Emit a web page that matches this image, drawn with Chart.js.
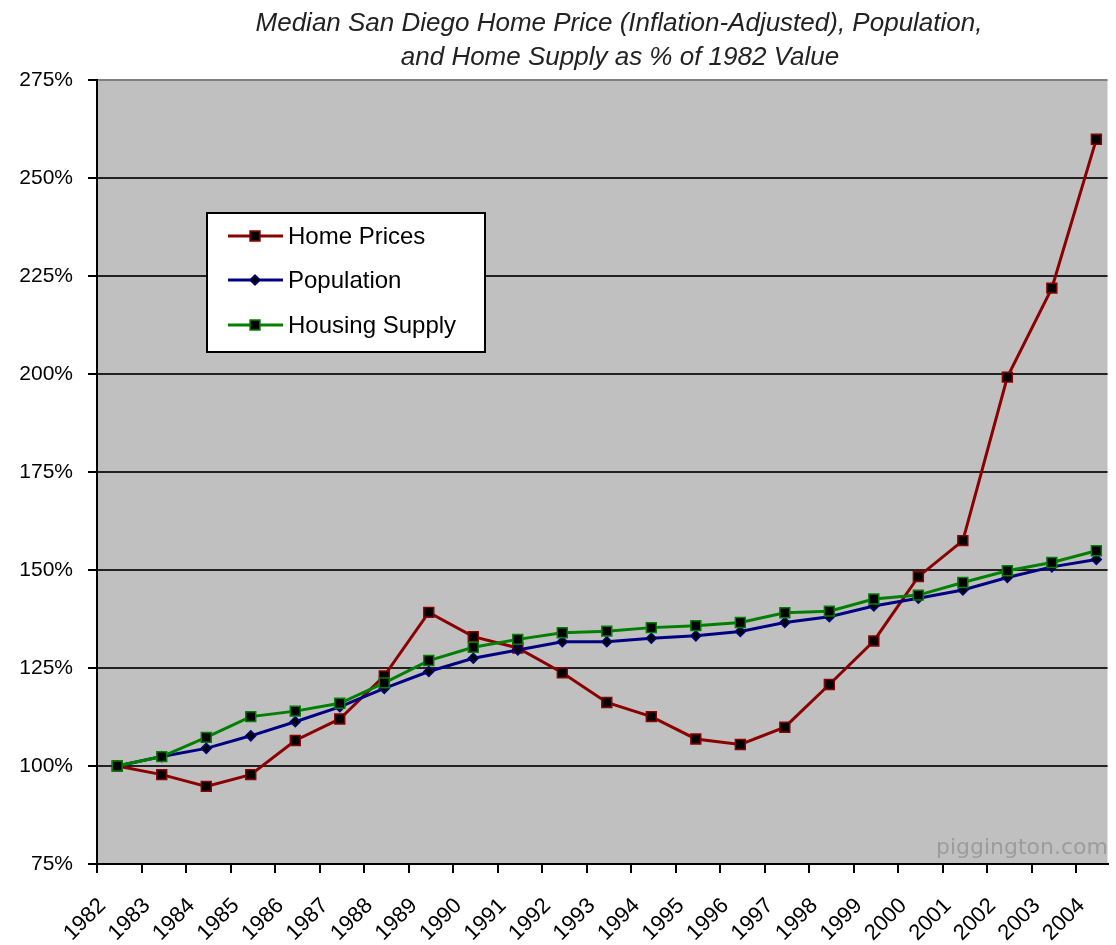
<!DOCTYPE html>
<html>
<head>
<meta charset="utf-8">
<script src="https://cdn.jsdelivr.net/npm/chart.js@4/dist/chart.umd.min.js"></script>
<style>
html,body{margin:0;padding:0;background:#fff;}
#wrap{width:1116px;height:945px;position:relative;}
</style>
</head>
<body>
<div id="wrap"><canvas id="c" width="1116" height="945"></canvas></div>
<script>
// ---- data ----
const years = [1982,1983,1984,1985,1986,1987,1988,1989,1990,1991,1992,1993,1994,1995,1996,1997,1998,1999,2000,2001,2002,2003,2004];
const yearLabels = years.map(String);
const homePrices    = [100,97.8,94.8,97.8,106.5,112.0,123.0,139.2,133.0,130.1,123.8,116.2,112.6,106.9,105.5,109.9,120.8,131.9,148.3,157.5,199.2,221.9,259.9];
const population    = [100,102.4,104.5,107.7,111.3,115.1,119.8,124.1,127.5,129.6,131.7,131.7,132.6,133.2,134.3,136.6,138.1,140.8,142.8,144.9,148.1,150.8,152.7];
const housingSupply = [100,102.4,107.3,112.6,114.0,116.0,121.2,126.9,130.3,132.3,134.0,134.4,135.3,135.8,136.6,139.1,139.5,142.6,143.6,146.8,149.8,151.9,154.9];
const yTickValues = [75,100,125,150,175,200,225,250,275];
const seriesNames = ['Home Prices','Population','Housing Supply'];
const titleLines = ['Median San Diego Home Price (Inflation-Adjusted), Population,','and Home Supply as % of 1982 Value'];
const watermark = 'piggington.com';

const FONT = '"Liberation Sans", Arial, sans-serif';

const toPts = arr => years.map((y,i)=>({x:y, y:arr[i]}));

const bgPlugin = {
  id:'plotBg',
  beforeDraw(chart){
    const {ctx, chartArea:a} = chart;
    ctx.save();
    ctx.fillStyle = '#C0C0C0';
    ctx.fillRect(a.left, a.top, a.right-a.left, a.bottom-a.top);
    ctx.restore();
  }
};

const decoPlugin = {
  id:'deco',
  afterDraw(chart){
    const ctx = chart.ctx;
    ctx.save();
    // title
    ctx.font = 'italic 26px ' + FONT;
    ctx.fillStyle = '#222';
    ctx.textAlign = 'center';
    ctx.textBaseline = 'alphabetic';
    ctx.fillText(titleLines[0], 619, 31);
    ctx.fillText(titleLines[1], 620, 65);
    // watermark
    ctx.font = '22px "DejaVu Sans", sans-serif';
    ctx.fillStyle = '#9c9c9c';
    ctx.textAlign = 'right';
    ctx.fillText(watermark, 1108, 854);
    // legend box
    const bx=207, by=213, bw=278, bh=139;
    ctx.fillStyle = '#fff';
    ctx.fillRect(bx,by,bw,bh);
    ctx.strokeStyle = '#000';
    ctx.lineWidth = 2;
    ctx.strokeRect(bx,by,bw,bh);
    const rows = [236, 280, 325];
    const dsByName = {};
    chart.data.datasets.forEach(d=>dsByName[d.label]=d);
    seriesNames.forEach((name,i)=>{
      const d = dsByName[name];
      const y = rows[i];
      ctx.strokeStyle = d.borderColor;
      ctx.lineWidth = 3;
      ctx.beginPath(); ctx.moveTo(228,y); ctx.lineTo(283,y); ctx.stroke();
      ctx.save();
      ctx.fillStyle = d.pointBackgroundColor;
      ctx.strokeStyle = d.pointBorderColor;
      ctx.lineWidth = d.pointBorderWidth;
      Chart.helpers.drawPoint(ctx, {pointStyle:d.pointStyle, radius:d.pointRadius, borderWidth:d.pointBorderWidth, rotation:0}, 255, y);
      ctx.restore();
      ctx.font = '24px ' + FONT;
      ctx.fillStyle = '#000';
      ctx.textAlign = 'left';
      ctx.textBaseline = 'middle';
      ctx.fillText(name, 288, y+1);
    });
    ctx.restore();
  }
};

const mkDs = (label, arr, color, style, r, order) => ({
  label, data: toPts(arr), borderColor: color, backgroundColor: color,
  borderWidth: 3, tension: 0, pointStyle: style, pointRadius: r,
  pointBackgroundColor: '#000', pointBorderColor: color, pointBorderWidth: 1.5,
  order
});

new Chart(document.getElementById('c'), {
  type:'line',
  data:{
    datasets:[
      mkDs(seriesNames[0], homePrices, '#8B0000', 'rect', 7, 2),
      mkDs(seriesNames[1], population, '#000080', 'rectRot', 5, 1),
      mkDs(seriesNames[2], housingSupply, '#008000', 'rect', 7, 0)
    ]
  },
  options:{
    responsive:false,
    animation:false,
    devicePixelRatio:1,
    layout:{padding:{top:80,right:6,left:0,bottom:0}},
    plugins:{legend:{display:false}, tooltip:{enabled:false}, title:{display:false}},
    scales:{
      x:{
        type:'linear', position:'bottom', min:1981.545, max:2004.25, weight:1,
        grid:{display:false, drawTicks:false}, border:{display:false},
        afterBuildTicks(s){ s.ticks = years.map(v=>({value:v})); },
        afterFit(s){ s.height = 72; s.paddingLeft = 0; s.paddingRight = 0; },
        ticks:{
          autoSkip:false, minRotation:45, maxRotation:45, padding:20, labelOffset:-15,
          color:'#000', font:{family:FONT, size:22},
          callback:(v,i)=>yearLabels[i]
        }
      },
      x2:{
        type:'linear', position:'bottom', min:1981.545, max:2004.25, weight:0,
        afterBuildTicks(s){ s.ticks = years.map(v=>({value:v-0.455})); },
        afterFit(s){ s.height = 9; s.paddingLeft = 0; s.paddingRight = 0; },
        grid:{display:true, drawOnChartArea:false, drawTicks:true, tickLength:9, color:'#000', tickColor:'#000', lineWidth:2},
        border:{display:true, color:'#000', width:2},
        ticks:{display:false}
      },
      y:{
        type:'linear', min:75, max:275,
        afterBuildTicks(s){ s.ticks = yTickValues.map(v=>({value:v})); },
        afterFit(s){ s.width = 97; },
        ticks:{padding:15, color:'#000', font:{family:FONT, size:21}, callback:v=>v+'%'},
        grid:{color:c=> (c.tick && c.tick.value===275) ? '#808080' : '#222', tickColor:'#000', lineWidth:2, tickLength:9, drawTicks:true},
        border:{display:true, color:'#000', width:2}
      }
    }
  },
  plugins:[bgPlugin, decoPlugin]
});
</script>
</body>
</html>
